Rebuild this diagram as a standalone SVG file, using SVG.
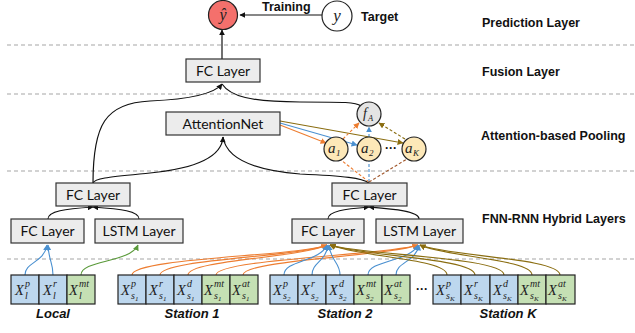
<svg xmlns="http://www.w3.org/2000/svg" width="635" height="333" viewBox="0 0 635 333">
<style>
.dash{stroke:#a6a6a6;stroke-width:1.2;stroke-dasharray:4,3;fill:none}
.box{fill:#ececec;stroke:#333;stroke-width:1.2}
.bt{font-family:Lato,"Open Sans",sans-serif;font-size:14px;fill:#111;text-anchor:middle}
.lab{font-family:"Liberation Sans",Arial,sans-serif;font-weight:bold;font-size:12.5px;fill:#111}
.grp{font-family:"Liberation Sans",Arial,sans-serif;font-weight:bold;font-style:italic;font-size:13px;fill:#111;text-anchor:middle}
.m{font-family:"Liberation Serif","Times New Roman",serif;font-style:italic;fill:#222}
.X{font-size:14.5px}
.s{font-size:10px}
.ss{font-size:7px}
.inb{fill:#bdd7ee;stroke:#222;stroke-width:1.2}
.ing{fill:#c5e0b4;stroke:#222;stroke-width:1.2}
.k{stroke:#111;stroke-width:1.2;fill:none}
.o{stroke:#ed7d31;stroke-width:1.1;fill:none}
.b{stroke:#4a90d0;stroke-width:1.1;fill:none}
.g{stroke:#5a9a3a;stroke-width:1.1;fill:none}
.y{stroke:#8a6d10;stroke-width:1.1;fill:none}
.br{stroke:#a0562a;stroke-width:1.1;fill:none}
.dd{stroke-dasharray:3,2}
.ac{fill:#fde8b8;stroke:#222;stroke-width:1.2}
</style>
<defs>
<marker id="ak" viewBox="0 0 10 10" refX="9" refY="5" markerWidth="6" markerHeight="6" orient="auto" markerUnits="userSpaceOnUse"><path d="M0,0L10,5L0,10z" fill="#111"/></marker>
<marker id="ao" viewBox="0 0 10 10" refX="9" refY="5" markerWidth="6" markerHeight="6" orient="auto" markerUnits="userSpaceOnUse"><path d="M0,0L10,5L0,10z" fill="#ed7d31"/></marker>
<marker id="ab" viewBox="0 0 10 10" refX="9" refY="5" markerWidth="6" markerHeight="6" orient="auto" markerUnits="userSpaceOnUse"><path d="M0,0L10,5L0,10z" fill="#4a90d0"/></marker>
<marker id="ag" viewBox="0 0 10 10" refX="9" refY="5" markerWidth="6" markerHeight="6" orient="auto" markerUnits="userSpaceOnUse"><path d="M0,0L10,5L0,10z" fill="#5a9a3a"/></marker>
<marker id="ay" viewBox="0 0 10 10" refX="9" refY="5" markerWidth="6" markerHeight="6" orient="auto" markerUnits="userSpaceOnUse"><path d="M0,0L10,5L0,10z" fill="#8a6d10"/></marker>
</defs>

<g id="separators">
<line class="dash" x1="7" y1="45" x2="635" y2="45"/>
<line class="dash" x1="7" y1="94" x2="635" y2="94"/>
<line class="dash" x1="7" y1="171" x2="635" y2="171"/>
<line class="dash" x1="7" y1="259" x2="635" y2="259"/>
</g>

<g id="layer-labels">
<text class="lab" x="482" y="27">Prediction Layer</text>
<text class="lab" x="482" y="76">Fusion Layer</text>
<text class="lab" x="481" y="140">Attention-based Pooling</text>
<text class="lab" x="482" y="223">FNN-RNN Hybrid Layers</text>
</g>

<g id="connectors">
<line class="k" x1="322" y1="15" x2="240" y2="15" marker-end="url(#ak)"/>
<line class="k" x1="222" y1="59" x2="222" y2="30" marker-end="url(#ak)"/>
<path class="k" d="M93,183 C93,125 105,103 150,101 C195,99 215,93 222,84" marker-end="url(#ak)"/>
<path class="k" d="M361,106 C356,102 345,102 300,102 C250,102 230,96 222,84"/>
<path class="k" d="M93,183 C95,178 110,177 150,173 C200,168 222,155 223,137" marker-end="url(#ak)"/>
<path class="k" d="M369,183 C362,178 345,176 300,174 C250,170 226,157 223,137"/>
<line class="y" x1="280" y1="121" x2="403" y2="143" marker-end="url(#ay)"/>
<line class="b" x1="280" y1="123" x2="357" y2="145" marker-end="url(#ab)"/>
<line class="o" x1="280" y1="125" x2="326" y2="143" marker-end="url(#ao)"/>
<line class="o dd" x1="369" y1="182" x2="341" y2="160"/>
<line class="b dd" x1="369" y1="182" x2="369" y2="161"/>
<line class="br dd" x1="369" y1="182" x2="407" y2="159"/>
<line class="o dd" x1="343" y1="139" x2="359" y2="123" marker-end="url(#ao)"/>
<line class="b dd" x1="369" y1="137" x2="369" y2="127" marker-end="url(#ab)"/>
<line class="y dd" x1="405" y1="139" x2="379" y2="123" marker-end="url(#ay)"/>
<path class="k" d="M48,219 C48,211 65,209 93,207" marker-end="url(#ak)"/>
<path class="k" d="M139,219 C139,211 121,209 93,207" marker-end="url(#ak)"/>
<path class="k" d="M328,219 C328,211 345,209 369,207" marker-end="url(#ak)"/>
<path class="k" d="M419,219 C419,211 393,209 369,207" marker-end="url(#ak)"/>
<path class="b" d="M25,275 C25,262 44,263 47,245" marker-end="url(#ab)"/>
<path class="b" d="M53,275 C53,262 49,262 48,245" marker-end="url(#ab)"/>
<path class="g" d="M81,275 C81,260 130,263 138,245" marker-end="url(#ag)"/>
<path class="o" d="M132,275 C132,258 300,256 327,245" marker-end="url(#ao)"/>
<path class="o" d="M160,275 C160,259 300,257 327,245" marker-end="url(#ao)"/>
<path class="o" d="M188,275 C188,260 300,258 327,245" marker-end="url(#ao)"/>
<path class="o" d="M216,275 C216,259 390,255 418,245" marker-end="url(#ao)"/>
<path class="o" d="M243,275 C243,260 390,256 418,245" marker-end="url(#ao)"/>
<path class="b" d="M284,275 C284,260 320,262 327,245" marker-end="url(#ab)"/>
<path class="b" d="M312,275 C312,262 326,262 328,245" marker-end="url(#ab)"/>
<path class="b" d="M340,275 C340,262 331,262 329,245" marker-end="url(#ab)"/>
<path class="b" d="M368,275 C368,260 410,262 418,245" marker-end="url(#ab)"/>
<path class="b" d="M396,275 C396,262 416,262 419,245" marker-end="url(#ab)"/>
<path class="y" d="M447,275 C447,259 360,257 330,245" marker-end="url(#ay)"/>
<path class="y" d="M475,275 C475,258 360,256 330,245" marker-end="url(#ay)"/>
<path class="y" d="M504,275 C504,257 360,255 330,245" marker-end="url(#ay)"/>
<path class="y" d="M532,275 C532,259 445,257 420,245" marker-end="url(#ay)"/>
<path class="y" d="M560,275 C560,258 445,256 420,245" marker-end="url(#ay)"/>
</g>

<g id="yhat">
<circle cx="223" cy="15" r="14.5" fill="#f4706c" stroke="#222" stroke-width="1.2"/>
<text class="m" x="223" y="20" font-size="16" text-anchor="middle">ŷ</text>
</g>
<g id="target">
<circle cx="337" cy="16" r="15" fill="#fff" stroke="#222" stroke-width="1.2"/>
<text class="m" x="337" y="21" font-size="17" text-anchor="middle">y</text>
<text class="lab" x="361" y="21">Target</text>
<text class="lab" x="262" y="11" font-size="12">Training</text>
</g>

<g id="fusion-fc">
<rect class="box" x="186" y="59" width="74" height="23"/>
<text class="bt" x="223" y="75.5">FC Layer</text>
</g>
<g id="attentionnet">
<rect class="box" x="166" y="112" width="114" height="23"/>
<text class="bt" x="223" y="128.5">AttentionNet</text>
</g>
<g id="fA">
<circle cx="369" cy="114" r="12" fill="#e4e4e4" stroke="#222" stroke-width="1.2"/>
<text class="m" x="363" y="118" font-size="14">f</text>
<text class="m" x="368" y="121" font-size="8.5">A</text>
</g>
<g id="a1">
<circle class="ac" cx="336" cy="149" r="12"/>
<text class="m" x="328" y="153" font-size="15">a</text>
<text class="m" x="336" y="156" font-size="9">1</text>
</g>
<g id="a2">
<circle class="ac" cx="369" cy="149" r="12"/>
<text class="m" x="361" y="153" font-size="15">a</text>
<text class="m" x="369" y="156" font-size="9">2</text>
</g>
<text x="391" y="152" font-family="Liberation Sans,sans-serif" font-weight="bold" font-size="12" text-anchor="middle" fill="#111">···</text>
<g id="aK">
<circle class="ac" cx="414" cy="149" r="12"/>
<text class="m" x="405" y="153" font-size="15">a</text>
<text class="m" x="413" y="156" font-size="9">K</text>
</g>

<g id="local-fc2">
<rect class="box" x="56" y="183" width="74" height="23"/>
<text class="bt" x="93" y="199.5">FC Layer</text>
</g>
<g id="local-fc1">
<rect class="box" x="11" y="219" width="73" height="24"/>
<text class="bt" x="47.5" y="236">FC Layer</text>
</g>
<g id="local-lstm">
<rect class="box" x="95" y="219" width="88" height="24"/>
<text class="bt" x="139" y="236">LSTM Layer</text>
</g>
<g id="station-fc2">
<rect class="box" x="332" y="183" width="75" height="23"/>
<text class="bt" x="369.5" y="199.5">FC Layer</text>
</g>
<g id="station-fc1">
<rect class="box" x="292" y="219" width="72" height="24"/>
<text class="bt" x="328" y="236">FC Layer</text>
</g>
<g id="station-lstm">
<rect class="box" x="376" y="219" width="87" height="24"/>
<text class="bt" x="419.5" y="236">LSTM Layer</text>
</g>

<g id="local-inputs">
<rect class="inb" x="11" y="275" width="28" height="29"/>
<rect class="inb" x="39" y="275" width="28" height="29"/>
<rect class="ing" x="67" y="275" width="28" height="29"/>
<text class="m X" x="15" y="295">X</text><text class="m s" x="25" y="287">p</text><text class="m s" x="25" y="299">l</text>
<text class="m X" x="43" y="295">X</text><text class="m s" x="53" y="287">r</text><text class="m s" x="53" y="299">l</text>
<text class="m X" x="69" y="295">X</text><text class="m s" x="79" y="287">mt</text><text class="m s" x="79" y="299">l</text>
<text class="grp" x="53" y="318">Local</text>
</g>

<g id="station1-inputs">
<rect class="inb" x="118" y="275" width="28" height="29"/>
<rect class="inb" x="146" y="275" width="28" height="29"/>
<rect class="inb" x="174" y="275" width="28" height="29"/>
<rect class="ing" x="202" y="275" width="28" height="29"/>
<rect class="ing" x="230" y="275" width="28" height="29"/>
<text class="m X" x="121" y="295">X</text><text class="m s" x="131" y="287">p</text><text class="m s" x="131" y="299">s</text><text class="m ss" x="135" y="301">1</text>
<text class="m X" x="149" y="295">X</text><text class="m s" x="159" y="287">r</text><text class="m s" x="159" y="299">s</text><text class="m ss" x="163" y="301">1</text>
<text class="m X" x="177" y="295">X</text><text class="m s" x="187" y="287">d</text><text class="m s" x="187" y="299">s</text><text class="m ss" x="191" y="301">1</text>
<text class="m X" x="204" y="295">X</text><text class="m s" x="214" y="287">mt</text><text class="m s" x="214" y="299">s</text><text class="m ss" x="218" y="301">1</text>
<text class="m X" x="232" y="295">X</text><text class="m s" x="242" y="287">at</text><text class="m s" x="242" y="299">s</text><text class="m ss" x="246" y="301">1</text>
<text class="grp" x="192" y="318">Station 1</text>
</g>

<g id="station2-inputs">
<rect class="inb" x="270" y="275" width="28" height="29"/>
<rect class="inb" x="298" y="275" width="28" height="29"/>
<rect class="inb" x="326" y="275" width="28" height="29"/>
<rect class="ing" x="354" y="275" width="28" height="29"/>
<rect class="ing" x="382" y="275" width="28" height="29"/>
<text class="m X" x="273" y="295">X</text><text class="m s" x="283" y="287">p</text><text class="m s" x="283" y="299">s</text><text class="m ss" x="287" y="301">2</text>
<text class="m X" x="301" y="295">X</text><text class="m s" x="311" y="287">r</text><text class="m s" x="311" y="299">s</text><text class="m ss" x="315" y="301">2</text>
<text class="m X" x="329" y="295">X</text><text class="m s" x="339" y="287">d</text><text class="m s" x="339" y="299">s</text><text class="m ss" x="343" y="301">2</text>
<text class="m X" x="356" y="295">X</text><text class="m s" x="366" y="287">mt</text><text class="m s" x="366" y="299">s</text><text class="m ss" x="370" y="301">2</text>
<text class="m X" x="384" y="295">X</text><text class="m s" x="394" y="287">at</text><text class="m s" x="394" y="299">s</text><text class="m ss" x="398" y="301">2</text>
<text class="grp" x="345" y="318">Station 2</text>
</g>

<text x="422" y="293" font-family="Liberation Sans,sans-serif" font-weight="bold" font-size="12" text-anchor="middle" fill="#111">···</text>

<g id="stationK-inputs">
<rect class="inb" x="433" y="275" width="28" height="29"/>
<rect class="inb" x="461" y="275" width="29" height="29"/>
<rect class="inb" x="490" y="275" width="28" height="29"/>
<rect class="ing" x="518" y="275" width="28" height="29"/>
<rect class="ing" x="546" y="275" width="29" height="29"/>
<text class="m X" x="436" y="295">X</text><text class="m s" x="446" y="287">p</text><text class="m s" x="446" y="299">s</text><text class="m ss" x="450" y="301">K</text>
<text class="m X" x="464" y="295">X</text><text class="m s" x="474" y="287">r</text><text class="m s" x="474" y="299">s</text><text class="m ss" x="478" y="301">K</text>
<text class="m X" x="493" y="295">X</text><text class="m s" x="503" y="287">d</text><text class="m s" x="503" y="299">s</text><text class="m ss" x="507" y="301">K</text>
<text class="m X" x="520" y="295">X</text><text class="m s" x="530" y="287">mt</text><text class="m s" x="530" y="299">s</text><text class="m ss" x="534" y="301">K</text>
<text class="m X" x="548" y="295">X</text><text class="m s" x="558" y="287">at</text><text class="m s" x="558" y="299">s</text><text class="m ss" x="562" y="301">K</text>
<text class="grp" x="508" y="318">Station K</text>
</g>
</svg>
